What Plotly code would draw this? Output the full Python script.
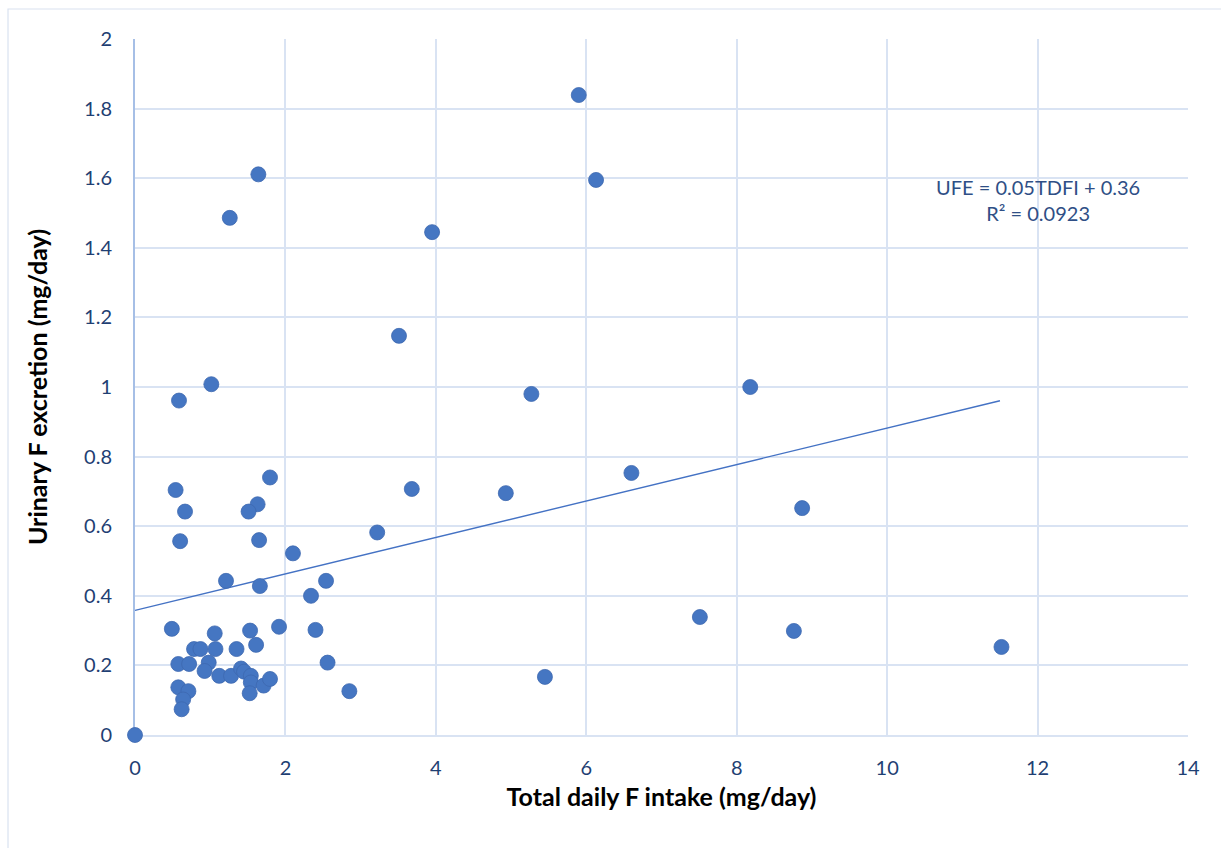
import plotly.graph_objects as go

# Total daily fluoride intake (mg/day) and urinary fluoride excretion (mg/day)
tdfi = [0.54, 0.665, 0.60, 1.795, 1.63, 1.51, 1.65, 2.10, 3.22, 1.21, 1.66, 2.54, 2.34,
        0.49, 1.915, 2.40, 1.53, 1.06, 0.785, 0.87, 1.07, 1.35, 1.61, 0.576, 0.72, 0.98,
        0.925, 1.12, 1.277, 1.41, 1.45, 1.54, 1.54, 1.71, 1.795, 1.525, 2.56, 2.85, 0.576,
        0.71, 0.64, 0.62, 0.0,
        1.64, 1.26, 1.015, 0.585,
        5.90, 6.13, 3.95, 3.51, 5.27, 8.18, 6.60, 3.68, 4.93, 8.87, 7.51, 8.76, 11.52, 5.45]
ufe = [0.704, 0.642, 0.557, 0.740, 0.663, 0.642, 0.560, 0.522, 0.582, 0.443, 0.428, 0.443, 0.400,
       0.305, 0.311, 0.302, 0.300, 0.292, 0.247, 0.247, 0.247, 0.247, 0.259, 0.204, 0.204, 0.208,
       0.184, 0.170, 0.170, 0.191, 0.182, 0.170, 0.151, 0.142, 0.161, 0.120, 0.208, 0.126, 0.137,
       0.126, 0.102, 0.074, 0.0,
       1.611, 1.486, 1.008, 0.961,
       1.839, 1.595, 1.445, 1.147, 0.980, 1.000, 0.753, 0.707, 0.695, 0.652, 0.339, 0.299, 0.253, 0.167]

# Linear trend coefficients (UFE = slope * TDFI + intercept)
trend_slope = 0.0524
trend_intercept = 0.358
trend_x = [0.0, 11.5]
trend_y = [trend_slope * v + trend_intercept for v in trend_x]

equation_text = "UFE = 0.05TDFI + 0.36<br>R² = 0.0923"

x_ticks = [0, 2, 4, 6, 8, 10, 12, 14]
y_ticks = [0, 0.2, 0.4, 0.6, 0.8, 1.0, 1.2, 1.4, 1.6, 1.8, 2.0]
y_tick_text = ["0", "0.2", "0.4", "0.6", "0.8", "1", "1.2", "1.4", "1.6", "1.8", "2"]

FONT = "Lato"
TEXT_COLOR = "#1f3f73"
GRID = "#d9e3f3"

fig = go.Figure()
fig.add_trace(go.Scatter(
    x=trend_x, y=trend_y, mode="lines",
    line=dict(color="#4472C4", width=1.4),
    hoverinfo="skip", showlegend=False,
))
fig.add_trace(go.Scatter(
    x=tdfi, y=ufe, mode="markers", cliponaxis=False,
    marker=dict(size=15, color="#4576c2", line=dict(color="#3d68b0", width=0.8)),
    showlegend=False,
))

fig.add_annotation(
    x=12.0, y=1.537, xref="x", yref="y", text=equation_text, showarrow=False,
    font=dict(family=FONT, size=20, color="#2f4f86"), align="center",
)

# Outer chart border
fig.add_shape(type="rect", xref="paper", yref="paper",
              x0=-0.1206, x1=1.04, y0=-0.17, y1=1.0431,
              line=dict(color="#d9e2f0", width=1.2), fillcolor="rgba(0,0,0,0)", layer="below")

fig.update_layout(
    width=1221, height=848,
    margin=dict(l=135, r=33, t=39, b=113),
    plot_bgcolor="white", paper_bgcolor="white",
    font=dict(family=FONT, color=TEXT_COLOR, size=20),
    xaxis=dict(
        range=[0, 14], tickvals=x_ticks, showgrid=True, gridcolor=GRID, gridwidth=1.5,
        zeroline=False, showline=True, linecolor=GRID, linewidth=1.5, layer="below traces",
        ticks="", ticklabelstandoff=14,
        tickfont=dict(family=FONT, size=20, color=TEXT_COLOR),
        title=dict(text="<b>Total daily F intake (mg/day)</b>", standoff=11,
                   font=dict(family=FONT, size=25, color="#000000")),
    ),
    yaxis=dict(
        range=[0, 2], tickvals=y_ticks, ticktext=y_tick_text, showgrid=True, gridcolor=GRID,
        gridwidth=1.5, zeroline=False, showline=True, linecolor="#a6bfe6", linewidth=2,
        layer="below traces",
        ticks="", ticklabelstandoff=17,
        tickfont=dict(family=FONT, size=20, color=TEXT_COLOR),
        title=dict(text="<b>Urinary F excretion (mg/day)</b>", standoff=29,
                   font=dict(family=FONT, size=25, color="#000000")),
    ),
)

fig.write_html("out.html")
